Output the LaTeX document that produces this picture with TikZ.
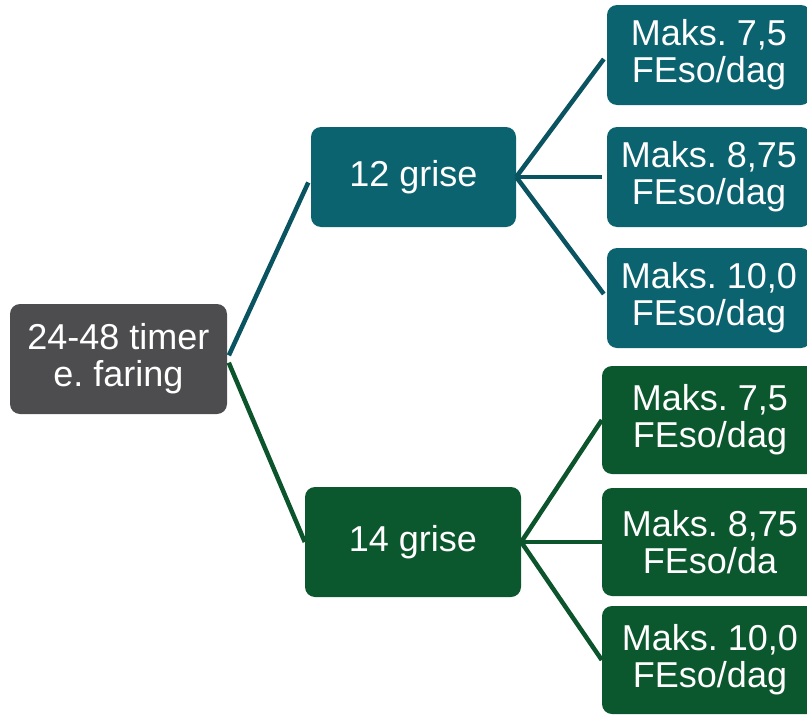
\documentclass[tikz,border=0pt]{standalone}
\usepackage{fontspec}
\setmainfont{Liberation Sans}
\usepackage{xcolor}
\frenchspacing
\definecolor{rootgray}{RGB}{77,77,79}
\definecolor{tealbox}{RGB}{11,99,112}
\definecolor{tealline}{RGB}{10,84,98}
\definecolor{greenbox}{RGB}{12,88,46}
\definecolor{greenline}{RGB}{12,84,44}
\begin{document}
\begin{tikzpicture}[x=1pt,y=-1pt]
\tikzstyle{every node}+=[inner sep=0pt, text=white, align=center, rounded corners=10pt, font=\fontsize{36}{37}\selectfont]
\tikzstyle{rootbox}=[fill=rootgray, minimum width=217pt, minimum height=110pt]
\tikzstyle{tealnode}=[fill=tealbox, minimum width=205pt, minimum height=100pt]
\tikzstyle{greennode}=[fill=greenbox, minimum width=216pt, minimum height=110pt]
\tikzstyle{tealleaf}=[fill=tealbox, minimum width=204pt, minimum height=100pt]
\tikzstyle{greenleaf}=[fill=greenbox, minimum width=216pt, minimum height=108pt]
\useasboundingbox (0,0) rectangle (807,715);
\clip (0,0) rectangle (807,715);
% boxes
\node [rootbox] (root) at (118.5,359) {24-48 timer\\e. faring};
\node [tealnode] (g12) at (413.5,177) {12 grise};
\node [greennode] (g14) at (413,542) {14 grise};
\node [tealleaf] (t75) at (709,55) {Maks. 7,5\\FEso/dag};
\node [tealleaf] (t875) at (709,177) {Maks. 8,75\\FEso/dag};
\node [tealleaf] (t100) at (709,298) {Maks. 10,0\\FEso/dag};
\node [greenleaf] (n75) at (710,420) {Maks. 7,5\\FEso/dag};
\node [greenleaf] (n875) at (710,542) {Maks. 8,75\\FEso/da};
\node [greenleaf] (n100) at (710,660) {Maks. 10,0\\FEso/dag};
% connectors
\draw [tealline, line width=4.5pt, shorten <=4pt, shorten >=6pt] (root.east) -- (g12.west);
\draw [greenline, line width=4.5pt, shorten <=4pt] (root.east) -- (g14.west);
\foreach \leaf in {t75,t875,t100}
  \draw [tealline, line width=4.5pt, shorten >=5pt] (g12.east) -- (\leaf.west);
\foreach \leaf in {n75,n875,n100}
  \draw [greenline, line width=4.5pt] (g14.east) -- (\leaf.west);
\end{tikzpicture}
\end{document}
